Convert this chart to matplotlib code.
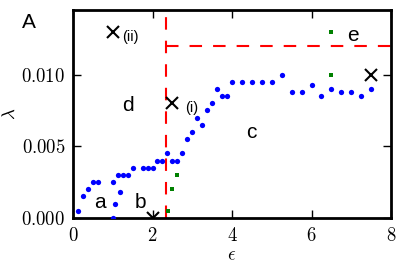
import matplotlib
matplotlib.use("Agg")
import matplotlib.pyplot as plt

plt.rcParams['mathtext.fontset'] = 'cm'
plt.rcParams['font.family'] = ['Liberation Sans', 'DejaVu Sans']

# blue points (epsilon, lambda)
blue_x = [0.125, 0.25, 0.375, 0.5, 0.625,
          1.0, 1.05, 1.17, 1.0, 1.125, 1.25, 1.375, 1.5, 1.75, 1.875, 2.0,
          2.125, 2.25, 2.375, 2.5, 2.625, 2.75, 2.875, 3.0, 3.125, 3.25,
          3.375, 3.5, 3.625, 3.75, 3.875, 4.0, 4.25, 4.5, 4.75, 5.0, 5.25,
          5.5, 5.75, 6.0, 6.25, 6.5, 6.75, 7.0, 7.25, 7.5]
blue_y = [0.0005, 0.0015, 0.002, 0.0025, 0.0025,
          0.0, 0.001, 0.0018, 0.0025, 0.003, 0.003, 0.003, 0.0035, 0.0035, 0.0035, 0.0035,
          0.004, 0.004, 0.0045, 0.004, 0.004, 0.0045, 0.0055, 0.006, 0.007, 0.0065,
          0.0075, 0.008, 0.009, 0.0085, 0.0085, 0.0095, 0.0095, 0.0095, 0.0095, 0.0095, 0.010,
          0.0088, 0.0088, 0.0093, 0.0085, 0.009, 0.0088, 0.0088, 0.0085, 0.009]

green_x = [2.4, 2.5, 2.625, 6.5, 6.5]
green_y = [0.0005, 0.002, 0.003, 0.010, 0.013]

cross_x = [1.0, 2.5, 7.5, 2.0]
cross_y = [0.013, 0.008, 0.010, 0.0]

vline_x = 2.35
hline_y = 0.012

region_labels = ['a', 'b', 'c', 'd', 'e']
region_x = [0.68, 1.70, 4.48, 1.39, 7.03]
region_y = [0.0007, 0.0007, 0.0056, 0.00743, 0.01233]

point_labels = ['(i)', '(ii)']
point_lx = [2.81, 1.24]
point_ly = [0.0074, 0.01234]

xticks = [0, 2, 4, 6, 8]
xtick_labels = [r'$0$', r'$2$', r'$4$', r'$6$', r'$8$']
yticks = [0.0, 0.005, 0.010]
ytick_labels = [r'$0.000$', r'$0.005$', r'$0.010$']

fig = plt.figure(figsize=(4.07, 2.77), dpi=100)
ax = fig.add_axes([73/407, 1-218/277, 318/407, 208/277])

ax.plot([vline_x, vline_x], [0, 0.0145], color='#ff0000', lw=1.5,
        linestyle=(0, (6, 5.3)), zorder=2)
ax.plot([vline_x, 8], [hline_y, hline_y], color='#ff0000', lw=1.5,
        linestyle=(0, (6, 5.3)), zorder=2)

ax.plot(blue_x, blue_y, 'o', color='#0000ff', markersize=3.8, mew=0, zorder=3)
ax.plot(green_x, green_y, 's', color='#008000', markersize=3, mew=0, zorder=3)
ax.plot(cross_x, cross_y, 'x', color='black', markersize=8.5, mew=1.5, zorder=4)

for t, x, y in zip(region_labels, region_x, region_y):
    ax.text(x, y, t, fontsize=15, ha='center', va='baseline')
for t, x, y in zip(point_labels, point_lx, point_ly):
    ax.text(x, y, t, fontsize=10.5, ha='left', va='baseline')

ax.set_xlim(0, 8)
ax.set_ylim(0, 0.0145)
ax.set_xticks(xticks)
ax.set_xticklabels(xtick_labels, fontsize=13.5)
ax.set_yticks(yticks)
ax.set_yticklabels(ytick_labels, fontsize=13.5)
ax.tick_params(direction='in', length=6, width=1, top=True, right=True)
ax.tick_params(axis='x', pad=6.5)
ax.tick_params(axis='y', pad=5.5)
for s in ax.spines.values():
    s.set_linewidth(2)

ax.set_xlabel(r'$\epsilon$', fontsize=13.5)
ax.set_ylabel(r'$\lambda$', fontsize=13.5)
ax.xaxis.set_label_coords(0.5, -0.14)
ax.yaxis.set_label_coords(-0.172, 0.5)

fig.text(22/407, 1-28/277, 'A', fontsize=15, ha='left', va='baseline')

fig.savefig('out.png', dpi=100)
